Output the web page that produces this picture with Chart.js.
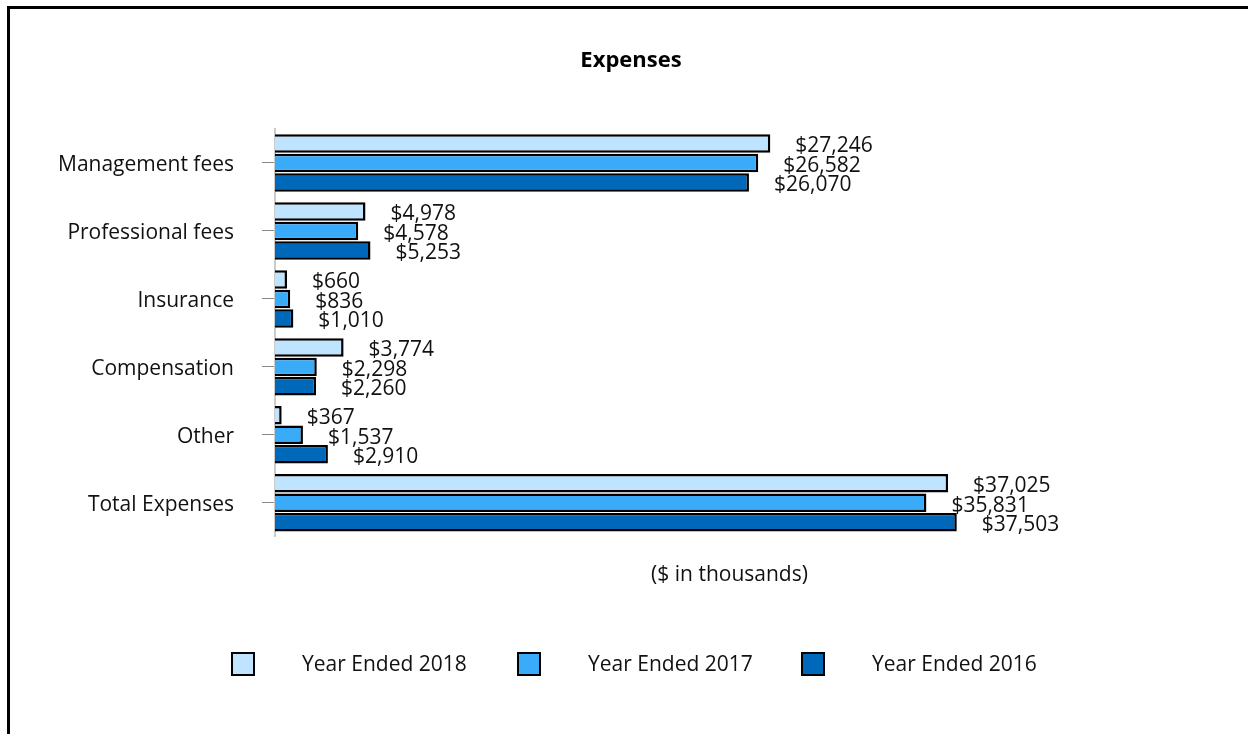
<!DOCTYPE html>
<html>
<head>
<meta charset="utf-8">
<script src="https://cdn.jsdelivr.net/npm/chart.js@4/dist/chart.umd.min.js"></script>
<style>
  body { margin: 0; background: #fff; }
</style>
</head>
<body>
<canvas id="myChart" width="1248" height="734"></canvas>
<script>
var chartTitle = 'Expenses';
var categories = ['Management fees', 'Professional fees', 'Insurance', 'Compensation', 'Other', 'Total Expenses'];
var seriesNames = ['Year Ended 2018', 'Year Ended 2017', 'Year Ended 2016'];
var values2018 = [27246, 4978, 660, 3774, 367, 37025];
var values2017 = [26582, 4578, 836, 2298, 1537, 35831];
var values2016 = [26070, 5253, 1010, 2260, 2910, 37503];

var fontFamily = "'Open Sans', 'Noto Sans', sans-serif";

// frame around the whole picture + title (drawn here because it sits off-centre)
var framePlugin = {
    id: 'frame',
    beforeDraw: function (chart) {
        var c = chart.ctx;
        c.save();
        c.fillStyle = '#fff';
        c.fillRect(0, 0, chart.width, chart.height);
        c.strokeStyle = '#000';
        c.lineWidth = 3;
        c.beginPath();
        c.moveTo(8.5, chart.height + 5);
        c.lineTo(8.5, 7.5);
        c.lineTo(chart.width + 5, 7.5);
        c.stroke();
        c.font = 'bold 22px ' + fontFamily;
        c.fillStyle = '#000';
        c.textAlign = 'center';
        c.textBaseline = 'middle';
        c.fillText(chartTitle, 631, 61);
        c.restore();
    }
};

// value labels at the end of each bar
var valueLabels = {
    id: 'valueLabels',
    afterDatasetsDraw: function (chart) {
        var c = chart.ctx;
        c.save();
        c.font = '21px ' + fontFamily;
        c.fillStyle = '#111';
        c.textAlign = 'left';
        c.textBaseline = 'middle';
        chart.data.datasets.forEach(function (ds, i) {
            var meta = chart.getDatasetMeta(i);
            meta.data.forEach(function (bar, j) {
                var v = ds.data[j];
                c.fillText('$' + v.toLocaleString('en-US'), bar.x + 25, bar.y + 3);
            });
        });
        c.restore();
    }
};

// legend drawn by hand to get the wide gap between box and text
var bottomLegend = {
    id: 'bottomLegend',
    afterDraw: function (chart) {
        var c = chart.ctx;
        var xs = [232, 518, 802];
        c.save();
        c.font = '21px ' + fontFamily;
        c.textBaseline = 'middle';
        c.textAlign = 'left';
        chart.data.datasets.forEach(function (ds, i) {
            c.fillStyle = ds.backgroundColor;
            c.fillRect(xs[i], 653, 22, 22);
            c.strokeStyle = '#000';
            c.lineWidth = 2;
            c.strokeRect(xs[i], 653, 22, 22);
            c.fillStyle = '#111';
            c.fillText(ds.label, xs[i] + 70, 665);
        });
        c.restore();
    }
};

var ctx = document.getElementById('myChart').getContext('2d');
var myChart = new Chart(ctx, {
    type: 'bar',
    data: {
        labels: categories,
        datasets: [{
            label: seriesNames[0],
            data: values2018,
            backgroundColor: '#BFE4FF',
            borderColor: '#000',
            borderWidth: 2.5
        }, {
            label: seriesNames[1],
            data: values2017,
            backgroundColor: '#3AABF8',
            borderColor: '#000',
            borderWidth: 2.5
        }, {
            label: seriesNames[2],
            data: values2016,
            backgroundColor: '#0068B8',
            borderColor: '#000',
            borderWidth: 2.5
        }]
    },
    plugins: [framePlugin, valueLabels, bottomLegend],
    options: {
        responsive: false,
        animation: false,
        indexAxis: 'y',
        categoryPercentage: 0.86,
        barPercentage: 0.95,
        layout: {
            padding: { left: 0, right: 64, top: 129, bottom: 146 }
        },
        plugins: {
            legend: { display: false },
            tooltip: { enabled: false },
            title: { display: false }
        },
        scales: {
            x: {
                min: 0,
                max: 50000,
                grid: { display: false },
                border: { display: false },
                ticks: { display: false },
                title: {
                    display: true,
                    text: '($ in thousands)',
                    color: '#111',
                    font: { family: fontFamily, size: 21 },
                    padding: { top: 18, bottom: 0 }
                }
            },
            y: {
                afterFit: function (scale) { scale.width = 275; },
                grid: {
                    offset: false,
                    drawOnChartArea: false,
                    tickLength: 13,
                    color: '#888'
                },
                border: { display: true, color: '#ccc', width: 2 },
                ticks: {
                    color: '#111',
                    padding: 28,
                    labelOffset: 2,
                    font: { family: fontFamily, size: 21 }
                }
            }
        }
    }
});
</script>
</body>
</html>
